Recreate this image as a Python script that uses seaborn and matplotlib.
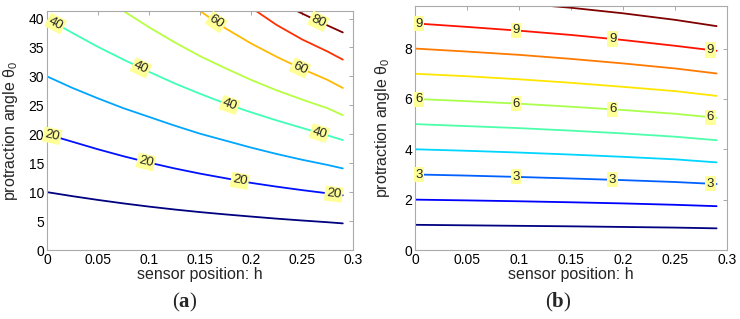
import numpy as np
import pandas as pd
import seaborn as sns
import matplotlib.pyplot as plt

# ---- data ----
# panel (a): contour levels 10..80, theta0 vs sensor position h
A_H = [0, 0.025, 0.05, 0.075, 0.1, 0.125, 0.15, 0.175, 0.2, 0.225, 0.25, 0.275, 0.29]
A_10 = [10, 9.3, 8.65, 8.05, 7.5, 7.0, 6.55, 6.15, 5.78, 5.42, 5.1, 4.8, 4.6]
A_20 = [20, 18.7, 17.4, 16.2, 15.1, 14.1, 13.2, 12.4, 11.6, 10.95, 10.35, 9.8, 9.45]
A_30 = [30, 28.0, 26.2, 24.5, 23.0, 21.5, 20.1, 18.9, 17.7, 16.6, 15.6, 14.7, 14.1]
A_40 = [40, 37.5, 35.1, 32.9, 30.8, 28.8, 27.0, 25.3, 23.8, 22.4, 21.1, 19.8, 19.0]
A_50_H = [0.075, 0.1, 0.125, 0.15, 0.175, 0.2, 0.225, 0.25, 0.275, 0.29]
A_50 = [41.3, 38.5, 35.9, 33.5, 31.4, 29.4, 27.6, 26.0, 24.5, 23.3]
A_60_H = [0.15, 0.175, 0.2, 0.225, 0.25, 0.275, 0.29]
A_60 = [41.3, 38.3, 35.7, 33.4, 31.3, 29.4, 28.0]
A_70_H = [0.205, 0.225, 0.25, 0.275, 0.29]
A_70 = [41.3, 38.9, 36.4, 34.3, 32.9]
A_80_H = [0.245, 0.265, 0.29]
A_80 = [41.3, 39.6, 37.6]

# panel (b): contour levels 1..10
B_H = [0, 0.05, 0.1, 0.15, 0.2, 0.25, 0.29]
B_1 = [1.0, 0.98, 0.96, 0.94, 0.915, 0.89, 0.86]
B_2 = [2.0, 1.97, 1.935, 1.895, 1.85, 1.795, 1.74]
B_3 = [3.0, 2.955, 2.9, 2.84, 2.775, 2.7, 2.62]
B_4 = [4.0, 3.94, 3.87, 3.79, 3.7, 3.6, 3.48]
B_5 = [5.0, 4.92, 4.84, 4.74, 4.63, 4.5, 4.36]
B_6 = [6.0, 5.91, 5.81, 5.69, 5.56, 5.41, 5.25]
B_7 = [7.0, 6.9, 6.78, 6.64, 6.48, 6.31, 6.12]
B_8 = [8.0, 7.88, 7.75, 7.59, 7.41, 7.21, 7.01]
B_9 = [9.0, 8.86, 8.71, 8.54, 8.34, 8.11, 7.91]
B_10_H = [0.13, 0.15, 0.2, 0.25, 0.29]
B_10 = [9.69, 9.62, 9.40, 9.14, 8.89]

A_LINES = {10: (A_H, A_10), 20: (A_H, A_20), 30: (A_H, A_30), 40: (A_H, A_40),
           50: (A_50_H, A_50), 60: (A_60_H, A_60), 70: (A_70_H, A_70), 80: (A_80_H, A_80)}
B_LINES = {1: (B_H, B_1), 2: (B_H, B_2), 3: (B_H, B_3), 4: (B_H, B_4), 5: (B_H, B_5),
           6: (B_H, B_6), 7: (B_H, B_7), 8: (B_H, B_8), 9: (B_H, B_9), 10: (B_10_H, B_10)}

# where the inline labels sit (h positions)
A_LABELS = {20: [0.005, 0.097, 0.189, 0.281], 40: [0.0085, 0.092, 0.179, 0.267],
            60: [0.166, 0.248], 80: [0.266]}
B_LABELS = {3: [0.004, 0.097, 0.19, 0.284], 6: [0.004, 0.097, 0.19, 0.284],
            9: [0.004, 0.097, 0.19, 0.284]}

XTICKS = [0, 0.05, 0.1, 0.15, 0.2, 0.25, 0.3]
XTICK_LABELS = ["0", "0.05", "0.1", "0.15", "0.2", "0.25", "0.3"]
A_YTICKS = [0, 5, 10, 15, 20, 25, 30, 35, 40]
B_YTICKS = [0, 2, 4, 6, 8]


def to_long(lines):
    rows = []
    for lev, (hs, ts) in lines.items():
        for h, t in zip(hs, ts):
            rows.append({"h": h, "theta": t, "level": lev})
    return pd.DataFrame(rows)


sns.set_theme(style="white")
plt.rcParams['font.family'] = ['Liberation Sans', 'DejaVu Sans']
plt.rcParams['mathtext.fontset'] = 'custom'
plt.rcParams['mathtext.rm'] = 'Liberation Sans'
plt.rcParams['mathtext.it'] = 'Liberation Sans:italic'
plt.rcParams['mathtext.bf'] = 'Liberation Serif:bold'

fig = plt.figure(figsize=(7.4, 3.19), dpi=100)
ax_a = fig.add_axes([47 / 740, 69 / 319, 306 / 740, 239 / 319])
ax_b = fig.add_axes([415 / 740, 69 / 319, 312 / 740, 244 / 319])

jet = plt.get_cmap("jet")


def panel(ax, lines, labels, ylim, yticks, lmin, lmax, rotate):
    pal = {lev: jet((lev - lmin) / (lmax - lmin)) for lev in lines}
    sns.lineplot(data=to_long(lines), x="h", y="theta", hue="level", palette=pal,
                 estimator=None, sort=False, legend=False, linewidth=1.3, ax=ax)
    ax.set_xlim(0, 0.3)
    ax.set_ylim(*ylim)
    ax.set_xticks(XTICKS)
    ax.set_xticklabels(XTICK_LABELS)
    ax.set_yticks(yticks)
    ax.tick_params(direction="in", length=3, width=0.6, color="#999999",
                   labelsize=10, pad=2, top=True, right=True, labelcolor="black")
    for s in ax.spines.values():
        s.set_color("#aaaaaa")
        s.set_linewidth(0.8)
    ax.set_xlabel("sensor position: h", fontsize=11.5)
    ax.set_ylabel("protraction angle θ$_0$", fontsize=11.5)

    # inline contour labels
    for lev, hs in labels.items():
        lh, lt = lines[lev]
        for h in hs:
            t = np.interp(h, lh, lt)
            rot = 0
            if rotate:
                p0 = ax.transData.transform((h - 0.01, np.interp(h - 0.01, lh, lt)))
                p1 = ax.transData.transform((h + 0.01, np.interp(h + 0.01, lh, lt)))
                rot = np.degrees(np.arctan2(p1[1] - p0[1], p1[0] - p0[0]))
            ax.text(h, t, str(lev), fontsize=9.5, ha="center", va="center",
                    rotation=rot, rotation_mode="anchor", zorder=5, clip_on=False,
                    bbox=dict(boxstyle="square,pad=0.12", fc=(1, 1, 0.6), ec="none"))


panel(ax_a, A_LINES, A_LABELS, (0, 41.3), A_YTICKS, 10, 80, True)
panel(ax_b, B_LINES, B_LABELS, (0, 9.69), B_YTICKS, 1, 10, False)
ax_a.yaxis.set_label_coords(-0.088, 0.5)
ax_b.yaxis.set_label_coords(-0.074, 0.5)
ax_a.xaxis.set_label_coords(0.5, -0.071)
ax_b.xaxis.set_label_coords(0.5, -0.070)

fig.text(185 / 740, 1 - 302 / 319, r"($\mathbf{a}$)", family="Liberation Serif",
         fontsize=15, ha="center", va="center")
fig.text(558 / 740, 1 - 302 / 319, r"($\mathbf{b}$)", family="Liberation Serif",
         fontsize=15, ha="center", va="center")

fig.savefig("out.png", dpi=100)
